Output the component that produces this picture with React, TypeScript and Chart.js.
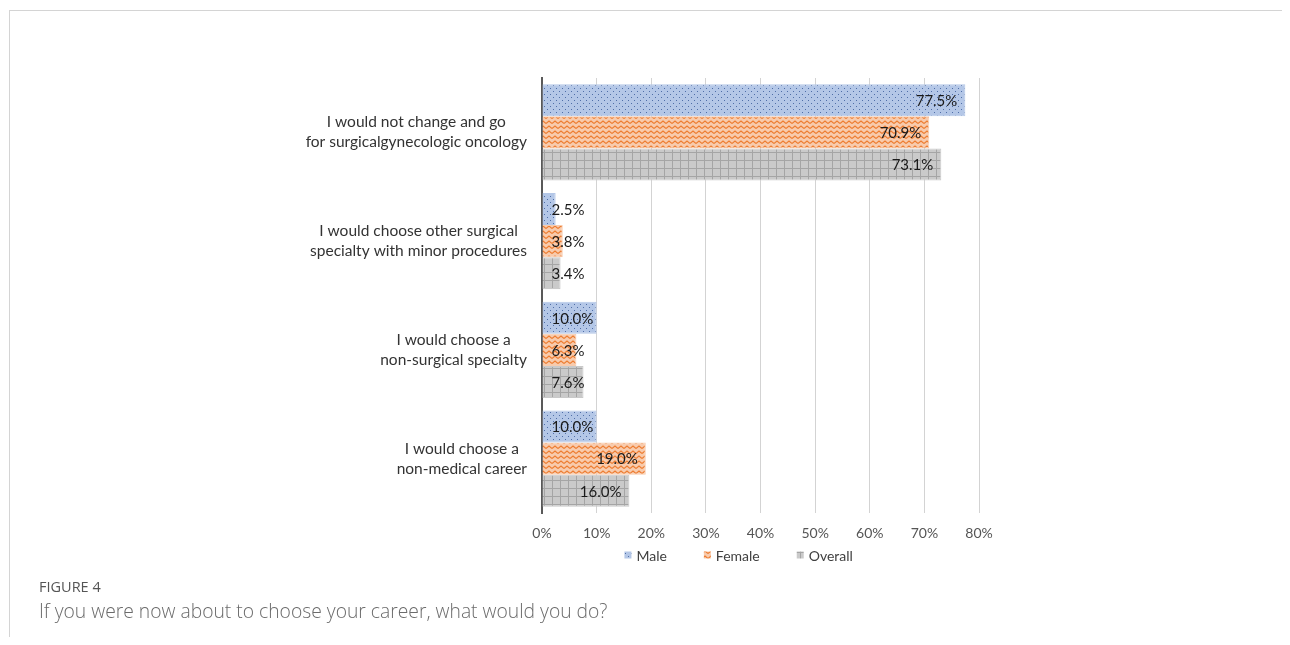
import React, { useEffect, useRef } from "react";
import { Chart, registerables } from "chart.js";

Chart.register(...registerables);

const categories: string[][] = [
  ["I would not change and go", "for surgicalgynecologic oncology"],
  ["I would choose other surgical", "specialty with minor procedures"],
  ["I would choose a", "non-surgical specialty"],
  ["I would choose a", "non-medical career"],
];
const maleValues = [77.5, 2.5, 10.0, 10.0];
const femaleValues = [70.9, 3.8, 6.3, 19.0];
const overallValues = [73.1, 3.4, 7.6, 16.0];
const seriesNames = ["Male", "Female", "Overall"];
const xTicks = [0, 10, 20, 30, 40, 50, 60, 70, 80];

const FONT = "Lato, 'Noto Sans', sans-serif";

function makeTile(w: number, h: number, draw: (c: CanvasRenderingContext2D) => void): CanvasPattern {
  const cv = document.createElement("canvas");
  cv.width = w;
  cv.height = h;
  const c = cv.getContext("2d")!;
  draw(c);
  const ctx = document.createElement("canvas").getContext("2d")!;
  return ctx.createPattern(cv, "repeat")!;
}

function makePatterns() {
  const dots = makeTile(6, 6, (c) => {
    c.fillStyle = "#b4c7e7";
    c.fillRect(0, 0, 6, 6);
    c.fillStyle = "#4f6ea8";
    c.fillRect(1, 1, 1, 1);
    c.fillRect(4, 4, 1, 1);
  });
  const zig = makeTile(6, 5, (c) => {
    c.fillStyle = "#f8cbad";
    c.fillRect(0, 0, 6, 5);
    c.strokeStyle = "#ed7d31";
    c.lineWidth = 1.1;
    c.beginPath();
    c.moveTo(0, 3.5);
    c.lineTo(3, 1);
    c.lineTo(6, 3.5);
    c.stroke();
  });
  const grid = makeTile(8, 8, (c) => {
    c.fillStyle = "#cacaca";
    c.fillRect(0, 0, 8, 8);
    c.fillStyle = "#a5a5a5";
    c.fillRect(0, 0, 8, 1);
    c.fillRect(0, 0, 1, 8);
  });
  return [dots, zig, grid];
}

export default function App() {
  const ref = useRef<HTMLCanvasElement>(null);

  useEffect(() => {
    if (!ref.current) return;
    const patterns = makePatterns();
    const borders = ["#b4c7e7", "#f8cbad", "#c9c9c9"];

    const labelPlugin = {
      id: "barLabels",
      afterDatasetsDraw(chart: any) {
        const ctx = chart.ctx;
        ctx.save();
        ctx.font = `15px ${FONT}`;
        ctx.fillStyle = "#1a1a1a";
        ctx.textBaseline = "middle";
        chart.data.datasets.forEach((ds: any, di: number) => {
          const meta = chart.getDatasetMeta(di);
          meta.data.forEach((bar: any, i: number) => {
            const txt = ds.data[i].toFixed(1) + "%";
            const w = ctx.measureText(txt).width;
            let left = bar.x - 8 - w;
            if (left < bar.base + 9) left = bar.base + 9;
            ctx.textAlign = "left";
            ctx.fillText(txt, left, bar.y + 1);
          });
        });
        ctx.restore();
      },
    };

    const catLabelPlugin = {
      id: "catLabels",
      afterDraw(chart: any) {
        const ctx = chart.ctx;
        const yScale = chart.scales.y;
        ctx.save();
        ctx.font = `15.5px ${FONT}`;
        ctx.fillStyle = "#333333";
        ctx.textBaseline = "middle";
        ctx.textAlign = "center";
        const rightEdge = chart.chartArea.left - 15;
        const lineH = 20;
        categories.forEach((lines, i) => {
          const cy = yScale.getPixelForTick(i);
          const widest = Math.max(...lines.map((l) => ctx.measureText(l).width));
          const cx = rightEdge - widest / 2;
          lines.forEach((l, k) => {
            const y = cy + (k - (lines.length - 1) / 2) * lineH;
            ctx.fillText(l, cx, y);
          });
        });
        ctx.restore();
      },
    };

    const legendPlugin = {
      id: "customLegend",
      afterDraw(chart: any) {
        const ctx = chart.ctx;
        ctx.save();
        ctx.font = `14px ${FONT}`;
        ctx.textBaseline = "middle";
        const box = 7;
        const gapBoxText = 5;
        const gapItems = 37;
        const widths = seriesNames.map((n) => box + gapBoxText + ctx.measureText(n).width);
        const total = widths.reduce((a, b) => a + b, 0) + gapItems * (seriesNames.length - 1);
        const centerX = chart.chartArea.left + (chart.chartArea.right - chart.chartArea.left) * 0.45;
        let x = centerX - total / 2;
        const y = chart.chartArea.bottom + 42;
        seriesNames.forEach((n, i) => {
          ctx.fillStyle = patterns[i];
          ctx.fillRect(x, y - box / 2, box, box);
          ctx.fillStyle = "#404040";
          ctx.textAlign = "left";
          ctx.fillText(n, x + box + gapBoxText, y + 1);
          x += widths[i] + gapItems;
        });
        ctx.restore();
      },
    };

    const chart = new Chart(ref.current, {
      type: "bar",
      data: {
        labels: categories,
        datasets: [maleValues, femaleValues, overallValues].map((vals, i) => ({
          label: seriesNames[i],
          data: vals,
          backgroundColor: patterns[i],
          borderColor: borders[i],
          borderWidth: 1,
          categoryPercentage: 0.885,
          barPercentage: 1,
        })),
      },
      options: {
        indexAxis: "y",
        animation: false,
        responsive: false,
        maintainAspectRatio: false,
        layout: { padding: { left: 0, right: 311, top: 78, bottom: 102 } },
        plugins: {
          legend: { display: false },
          tooltip: { enabled: false },
        },
        scales: {
          x: {
            min: 0,
            max: 80,
            afterBuildTicks(scale: any) {
              scale.ticks = xTicks.map((v) => ({ value: v }));
            },
            afterFit(scale: any) {
              scale.height = 30;
            },
            ticks: {
              padding: 12,
              color: "#555555",
              font: { family: FONT, size: 14 },
              callback: (v: any) => v + "%",
            },
            grid: { color: "#d3d3d3", lineWidth: 1, drawTicks: false },
            border: { display: false },
          },
          y: {
            afterFit(scale: any) {
              scale.width = 542;
            },
            ticks: { display: false },
            grid: { display: false, drawTicks: false },
            border: { display: true, color: "#595959", width: 2 },
          },
        },
      },
      plugins: [labelPlugin, catLabelPlugin, legendPlugin],
    });
    return () => chart.destroy();
  }, []);

  return (
    <div style={{ position: "relative", width: 1290, height: 645, margin: -8, overflow: "hidden", background: "#fff" }}>
      <div style={{ position: "absolute", left: 9, top: 10, right: 0, height: 1, background: "#d4d4d4" }} />
      <div style={{ position: "absolute", left: 9, top: 10, bottom: 0, width: 1, background: "#d4d4d4" }} />
      <canvas ref={ref} width={1290} height={645} style={{ position: "absolute", left: 0, top: 0 }} />
      <div
        style={{
          position: "absolute",
          left: 39,
          top: 577,
          fontFamily: "'Open Sans', sans-serif",
          fontSize: 14.5,
          color: "#555",
        }}
      >
        FIGURE 4
      </div>
      <div
        style={{
          position: "absolute",
          left: 39,
          top: 597,
          fontFamily: "'Open Sans', sans-serif",
          fontSize: 19.3,
          fontWeight: 300,
          color: "#6b6b6b",
        }}
      >
        If you were now about to choose your career, what would you do?
      </div>
    </div>
  );
}
